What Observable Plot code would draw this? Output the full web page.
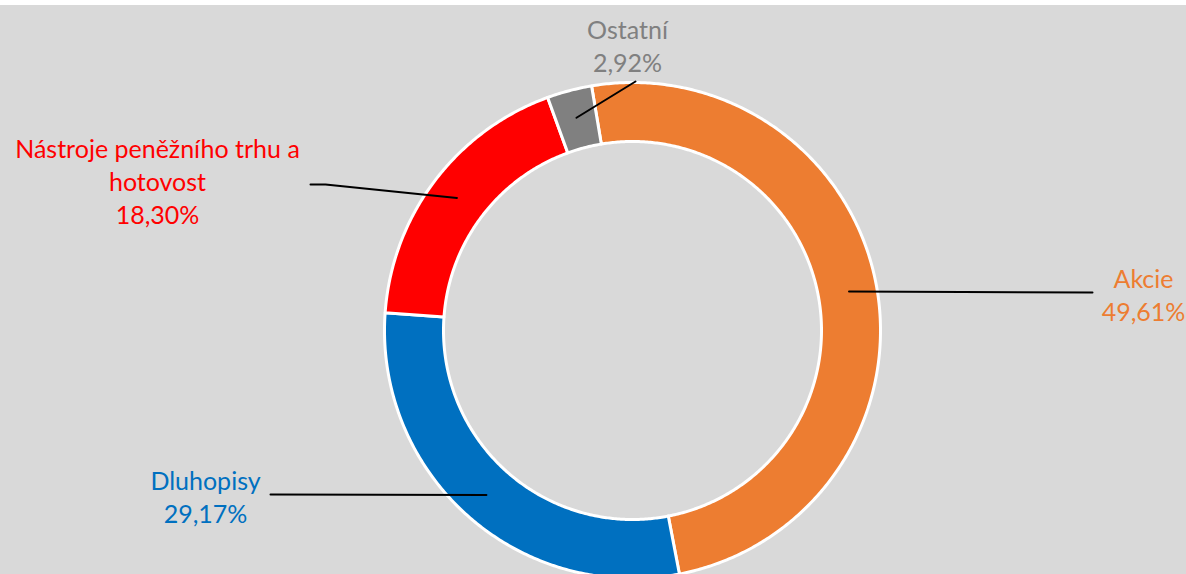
<!DOCTYPE html>
<html><head><meta charset="utf-8">
<script src="https://cdn.jsdelivr.net/npm/d3@7"></script>
<script src="https://cdn.jsdelivr.net/npm/@observablehq/plot@0.6"></script>
<style>
body{margin:0;padding-top:5px;background:#ffffff;}
#chart svg{display:block;}
</style>
</head><body><div id="chart"></div>
<script>
// ---- data ----
const categories = ["Akcie", "Dluhopisy", "Nástroje peněžního trhu a hotovost", "Ostatní"];
const values = [49.61, 29.17, 18.30, 2.92];
const valueLabels = ["49,61%", "29,17%", "18,30%", "2,92%"];
const nameLabels = ["Akcie", "Dluhopisy", "Nástroje peněžního trhu a\nhotovost", "Ostatní"];
const colors = ["#ED7D31", "#0070C0", "#FF0000", "#808080"];

// ---- layout (styling) ----
const W = 1186, H = 569;
const cx = 632, cy = 325;
const rInner = 189, rOuter = 248, rLeader = 220;
const startDeg = -9.5;
const labelPos = [[511, -37], [-427, 165], [-475, -150], [-5, -286]];
const leaderEnds = [[[460, -38]], [[-362, 164]], [[-307, -146], [-322, -146]], [[3, -249]]];

const total = d3.sum(values);
const rad = d => d * Math.PI / 180;
const pt = (r, deg) => [r * Math.sin(rad(deg)), -r * Math.cos(rad(deg))];

const ring = [], leaders = [], labels = [];
let a = startDeg;
categories.forEach((name, i) => {
  const span = values[i] / total * 360;
  const a0 = a, a1 = a + span;
  const n = Math.max(2, Math.ceil(span / 0.5));
  for (let k = 0; k <= n; k++) { const [x, y] = pt(rOuter, a0 + span * k / n); ring.push({name, x, y}); }
  for (let k = n; k >= 0; k--) { const [x, y] = pt(rInner, a0 + span * k / n); ring.push({name, x, y}); }
  const [lx, ly] = pt(rLeader, (a0 + a1) / 2);
  leaders.push({name, x: lx, y: ly});
  leaderEnds[i].forEach(([x, y]) => leaders.push({name, x, y}));
  labels.push({name, x: labelPos[i][0], y: labelPos[i][1], text: nameLabels[i] + "\n" + valueLabels[i]});
  a = a1;
});

const chart = Plot.plot({
  width: W, height: H,
  margin: 0,
  style: {background: "#d9d9d9", overflow: "hidden"},
  x: {domain: [-cx, W - cx], range: [0, W], axis: null},
  y: {domain: [-cy, H - cy], range: [0, H], axis: null},
  color: {domain: categories, range: colors},
  marks: [
    Plot.line(ring, {x: "x", y: "y", z: "name", fill: "name", stroke: "white", strokeWidth: 3, curve: "linear-closed"}),
    Plot.line(leaders, {x: "x", y: "y", z: "name", stroke: "black", strokeWidth: 2}),
    Plot.text(labels, {x: "x", y: "y", text: "text", fill: "name", fontSize: 25, fontFamily: "Lato", lineHeight: 1.33, textAnchor: "middle", lineAnchor: "middle"})
  ]
});
document.getElementById("chart").append(chart);
</script>
</body></html>
